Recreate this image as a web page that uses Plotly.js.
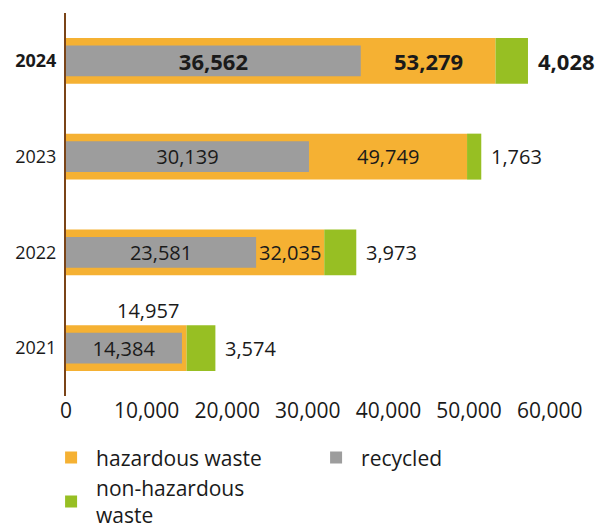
<!DOCTYPE html>
<html>
<head>
<meta charset="utf-8">
<script src="https://cdn.plot.ly/plotly-3.0.1.min.js"></script>
<style>html,body{margin:0;padding:0;background:#fff;}#chart{width:596px;height:530px;}</style>
</head>
<body>
<div id="chart"></div>
<script>
// ---- data ----
const years = ['2021', '2022', '2023', '2024'];
const hazardous = [14957, 32035, 49749, 53279];
const nonHazardous = [3574, 3973, 1763, 4028];
const recycled = [14384, 23581, 30139, 36562];
const xTickVals = [0, 10000, 20000, 30000, 40000, 50000, 60000];
const xTickText = ['0', '10,000', '20,000', '30,000', '40,000', '50,000', '60,000'];
const yTickText = ['2021', '2022', '2023', '<b>2024</b>'];
const highlightYear = '2024';

// ---- styles ----
const C_ORANGE = '#F5B133';
const C_GREY = '#9D9D9D';
const C_GREEN = '#97BF23';
const C_TEXT = '#1a1a1a';
const FONT = '"Open Sans", "Noto Sans", sans-serif';

const fmt = v => v.toLocaleString('en-US');
const wrap = (v, y) => y === highlightYear ? '<b>' + fmt(v) + '</b>' : fmt(v);
const sizeFor = y => y === highlightYear ? 22 : 20;

const traces = [
  {
    type: 'bar', orientation: 'h', name: 'hazardous waste',
    y: years, x: hazardous, width: 0.48,
    marker: {color: C_ORANGE}, legendrank: 1, hoverinfo: 'x+name'
  },
  {
    type: 'bar', orientation: 'h', name: 'non-hazardous<br>waste',
    y: years, x: nonHazardous, base: hazardous, width: 0.48,
    marker: {color: C_GREEN}, legendrank: 3, hoverinfo: 'x+name'
  },
  {
    type: 'bar', orientation: 'h', name: 'recycled',
    y: years, x: recycled, width: 0.32,
    marker: {color: C_GREY}, legendrank: 2,
    text: recycled.map((v, i) => wrap(v, years[i])),
    textposition: 'inside', insidetextanchor: 'middle', constraintext: 'none',
    textangle: 0,
    insidetextfont: {family: FONT, size: years.map(sizeFor), color: C_TEXT},
    hoverinfo: 'x+name'
  }
];

const annotations = [];
years.forEach((y, i) => {
  if (y === '2021') {
    annotations.push({
      x: hazardous[i], y: i, xref: 'x', yref: 'y', text: wrap(hazardous[i], y),
      showarrow: false, xanchor: 'right', yanchor: 'middle', xshift: -6, yshift: 38,
      font: {family: FONT, size: sizeFor(y), color: C_TEXT}
    });
  } else {
    annotations.push({
      x: (recycled[i] + hazardous[i]) / 2, y: i, xref: 'x', yref: 'y', text: wrap(hazardous[i], y),
      showarrow: false, xanchor: 'center', yanchor: 'middle',
      font: {family: FONT, size: sizeFor(y), color: C_TEXT}
    });
  }
  annotations.push({
    x: hazardous[i] + nonHazardous[i], y: i, xref: 'x', yref: 'y', text: wrap(nonHazardous[i], y),
    showarrow: false, xanchor: 'left', yanchor: 'middle', xshift: 8,
    font: {family: FONT, size: sizeFor(y), color: C_TEXT}
  });
});

const layout = {
  width: 596, height: 530,
  margin: {l: 66, r: 6, t: 13, b: 134, pad: 0, autoexpand: false},
  paper_bgcolor: '#fff', plot_bgcolor: '#fff',
  barmode: 'overlay',
  font: {family: FONT, color: C_TEXT, size: 20},
  xaxis: {
    range: [0, 65000], tickvals: xTickVals, ticktext: xTickText,
    showgrid: false, zeroline: false, showline: false, ticks: '',
    tickfont: {family: FONT, size: 21, color: C_TEXT}, fixedrange: true,
    automargin: false
  },
  yaxis: {
    type: 'category', categoryorder: 'array', categoryarray: years,
    range: [-0.5, 3.5], tickvals: years, ticktext: yTickText,
    showgrid: false, zeroline: false, showline: true, linecolor: '#7A4418', linewidth: 2,
    ticks: '', ticklabelstandoff: 4, automargin: false,
    tickfont: {family: FONT, size: 18, color: C_TEXT}, fixedrange: true
  },
  showlegend: true,
  legend: {
    orientation: 'h', x: -0.038, y: -0.108, xanchor: 'left', yanchor: 'top',
    itemwidth: 40, entrywidth: 210, entrywidthmode: 'pixels', traceorder: 'normal',
    font: {family: FONT, size: 21, color: C_TEXT}, itemclick: false, itemdoubleclick: false
  },
  annotations: annotations
};

Plotly.newPlot('chart', traces, layout, {displayModeBar: false, staticPlot: true});
</script>
</body>
</html>
